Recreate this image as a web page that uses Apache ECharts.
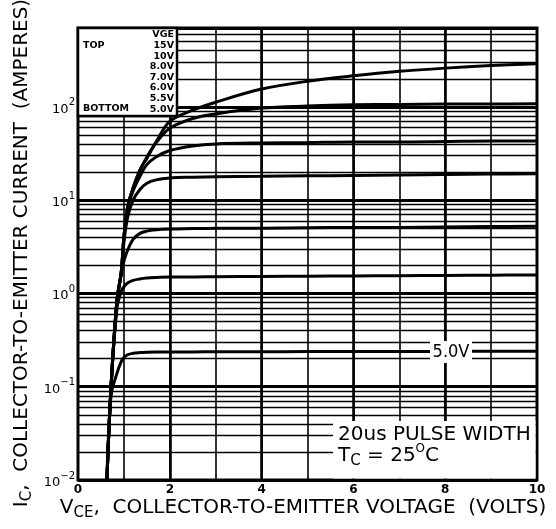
<!DOCTYPE html>
<html>
<head>
<meta charset="utf-8">
<script src="https://cdn.jsdelivr.net/npm/echarts@6/dist/echarts.min.js"></script>
<style>
html,body{margin:0;padding:0;background:#fff;}
#chart{width:556px;height:529px;}
</style>
</head>
<body>
<div id="chart"></div>
<script>
// ---- data ----
const VCE = [0.63, 0.72, 0.85, 0.94, 1.0, 1.08, 1.2, 1.35, 1.5, 1.7, 2, 2.5, 3, 4, 5, 6, 7, 8, 9, 10];
const IC_15V = [0.01, 0.1, 0.85, 1.65, 4, 8.4, 13.5, 21, 29, 42, 70, 92, 112, 155, 188, 215, 240, 260, 277, 290];
const IC_10V = [0.01, 0.1, 0.85, 1.65, 4, 8.4, 13.5, 21, 28, 41, 59, 75, 84, 97, 102, 105, 106, 107, 107, 108];
const IC_8V = [0.01, 0.1, 0.85, 1.65, 4, 8, 12.5, 18, 24, 29, 34, 38, 40, 41, 41.5, 42, 42, 42.5, 43, 43];
const IC_7V = [0.01, 0.1, 0.85, 1.65, 3.5, 6.5, 10, 13, 15.2, 16.5, 17.3, 17.6, 17.8, 18, 18.2, 18.4, 18.6, 18.8, 19, 19.2];
const IC_6V = [0.01, 0.1, 0.85, 1.6, 2.2, 2.9, 3.8, 4.4, 4.65, 4.8, 4.9, 4.95, 5.0, 5.0, 5.05, 5.1, 5.1, 5.15, 5.2, 5.25];
const IC_5_5V = [0.01, 0.1, 0.7, 1.05, 1.18, 1.29, 1.38, 1.43, 1.46, 1.48, 1.5, 1.5, 1.51, 1.52, 1.53, 1.54, 1.55, 1.56, 1.57, 1.58];
const IC_5V = [0.01, 0.08, 0.14, 0.185, 0.205, 0.22, 0.228, 0.232, 0.234, 0.235, 0.235, 0.236, 0.237, 0.237, 0.238, 0.238, 0.239, 0.239, 0.24, 0.24];
const CURVES = [
  {name: '15V', ic: IC_15V},
  {name: '10V', ic: IC_10V},
  {name: '8.0V', ic: IC_8V},
  {name: '7.0V', ic: IC_7V},
  {name: '6.0V', ic: IC_6V},
  {name: '5.5V', ic: IC_5_5V},
  {name: '5.0V', ic: IC_5V}
];
const X_MIN = 0, X_MAX = 10;
const Y_MIN = 0.01, Y_MAX = 700;
const LEGEND_HEAD = ['VGE', '15V', '10V', '8.0V', '7.0V', '6.0V', '5.5V', '5.0V'];

// ---- chart ----
const FONT = "'DejaVu Sans',sans-serif";
const FONT_C = "'DejaVu Sans Condensed','DejaVu Sans',sans-serif";
const chart = echarts.init(document.getElementById('chart'), null, {renderer: 'canvas'});

// minor log grid lines (2..9 per decade) and even-volt vertical lines
const minorY = [];
for (let d = -2; d <= 2; d++) {
  for (let m = 2; m <= 9; m++) {
    const v = m * Math.pow(10, d);
    if (v < Y_MAX) minorY.push({yAxis: v});
  }
}
const evenX = [2, 4, 6, 8].map(v => ({xAxis: v}));

const series = [
  {
    type: 'line', data: [], silent: true, z: 1,
    markLine: {
      silent: true, symbol: 'none', label: {show: false}, animation: false,
      lineStyle: {color: '#000', width: 1.4, type: 'solid'},
      data: minorY
    }
  },
  {
    type: 'line', data: [], silent: true, z: 1,
    markLine: {
      silent: true, symbol: 'none', label: {show: false}, animation: false,
      lineStyle: {color: '#000', width: 2.6, type: 'solid'},
      data: evenX
    }
  }
];
CURVES.forEach(c => {
  series.push({
    name: c.name, type: 'line', z: 3,
    data: VCE.map((v, i) => [v, c.ic[i]]),
    smooth: 0.35,
    showSymbol: false, symbol: 'none',
    lineStyle: {color: '#000', width: 3},
    clip: true, animation: false
  });
});

const isPow10 = v => Math.abs(Math.log10(v) - Math.round(Math.log10(v))) < 1e-6;

const option = {
  animation: false,
  backgroundColor: '#fff',
  grid: {left: 78, right: 19, top: 28, bottom: 49, show: true, borderColor: '#000', borderWidth: 3, backgroundColor: 'transparent', z: 5},
  xAxis: {
    type: 'value', min: X_MIN, max: X_MAX, interval: 1,
    axisLine: {show: false}, axisTick: {show: false},
    splitLine: {show: true, lineStyle: {color: '#000', width: 1.6}},
    axisLabel: {
      margin: 4, color: '#000', fontSize: 12, fontWeight: 'bold', fontFamily: FONT,
      formatter: v => (v % 2 === 0 ? String(v) : '')
    }
  },
  yAxis: {
    type: 'log', logBase: 10, min: Y_MIN, max: Y_MAX,
    axisLine: {show: false}, axisTick: {show: false},
    splitLine: {show: true, lineStyle: {color: '#000', width: 3}},
    axisLabel: {
      margin: 3, color: '#000',
      formatter: v => {
        if (!isPow10(v)) return '';
        const e = Math.round(Math.log10(v));
        return '{b|10}{s|' + (e < 0 ? '\u2212' + (-e) : e) + '}';
      },
      rich: {
        b: {fontSize: 13, fontFamily: FONT, color: '#000', verticalAlign: 'bottom', lineHeight: 18},
        s: {fontSize: 10, fontFamily: FONT, color: '#000', verticalAlign: 'top', lineHeight: 18, padding: [0, 0, 8, 0]}
      }
    }
  },
  series: series,
  graphic: [
    // legend box
    {type: 'rect', z: 50, shape: {x: 78, y: 28, width: 99, height: 88}, style: {fill: '#fff', stroke: '#000', lineWidth: 2.5}},
    {type: 'text', z: 51, x: 83, y: 45.5, style: {text: 'TOP', font: "bold 9.5px 'DejaVu Sans',sans-serif", fill: '#000', verticalAlign: 'middle'}},
    {type: 'text', z: 51, x: 83, y: 109, style: {text: 'BOTTOM', font: "bold 9.5px 'DejaVu Sans',sans-serif", fill: '#000', verticalAlign: 'middle'}},
    ...LEGEND_HEAD.map((t, i) => ({
      type: 'text', z: 51, x: 174, y: 35 + i * 10.6,
      style: {text: t, font: "bold 9.5px 'DejaVu Sans',sans-serif", fill: '#000', align: 'right', verticalAlign: 'middle'}
    })),
    // 5.0V curve label
    {type: 'rect', z: 50, shape: {x: 430, y: 341, width: 42, height: 22}, style: {fill: '#fff'}},
    {type: 'text', z: 51, x: 451, y: 352, style: {text: '5.0V', font: '18px ' + FONT_C, fill: '#000', align: 'center', verticalAlign: 'middle'}},
    // conditions box
    {type: 'rect', z: 50, shape: {x: 333, y: 421, width: 202.5, height: 57.5}, style: {fill: '#fff'}},
    {type: 'text', z: 51, x: 338, y: 435, style: {text: '20us PULSE WIDTH', font: '20px ' + FONT, fill: '#000', verticalAlign: 'middle'}},
    {type: 'text', z: 51, x: 338, y: 456, style: {
      text: '{m|T}{sub|C}{m| = 25}{sup|O}{m|C}', verticalAlign: 'middle',
      rich: {
        m: {fontSize: 20, fontFamily: FONT, fill: '#000', verticalAlign: 'middle', lineHeight: 26},
        sub: {fontSize: 15, fontFamily: FONT, fill: '#000', verticalAlign: 'bottom', lineHeight: 26, padding: [10, 0, 0, 0]},
        sup: {fontSize: 12, fontFamily: FONT, fill: '#000', verticalAlign: 'top', lineHeight: 26, padding: [0, 0, 10, 0]}
      }
    }},
    // y axis title
    {type: 'text', z: 51, x: 22, y: 253, rotation: Math.PI / 2, style: {
      text: '{m|I}{sub|C}{m|,  COLLECTOR-TO-EMITTER CURRENT  (AMPERES)}', align: 'center', verticalAlign: 'middle',
      rich: {
        m: {fontSize: 20, fontFamily: FONT, fill: '#000', verticalAlign: 'middle', lineHeight: 26},
        sub: {fontSize: 15, fontFamily: FONT, fill: '#000', verticalAlign: 'bottom', lineHeight: 26, padding: [10, 0, 0, 0]}
      }
    }},
    // x axis title
    {type: 'text', z: 51, x: 303, y: 508, style: {
      text: '{m|V}{sub|CE}{m|,  COLLECTOR-TO-EMITTER VOLTAGE  (VOLTS)}', align: 'center', verticalAlign: 'middle',
      rich: {
        m: {fontSize: 20, fontFamily: FONT, fill: '#000', verticalAlign: 'middle', lineHeight: 26},
        sub: {fontSize: 15, fontFamily: FONT, fill: '#000', verticalAlign: 'bottom', lineHeight: 26, padding: [10, 0, 0, 0]}
      }
    }}
  ]
};
chart.setOption(option);
</script>
</body>
</html>
